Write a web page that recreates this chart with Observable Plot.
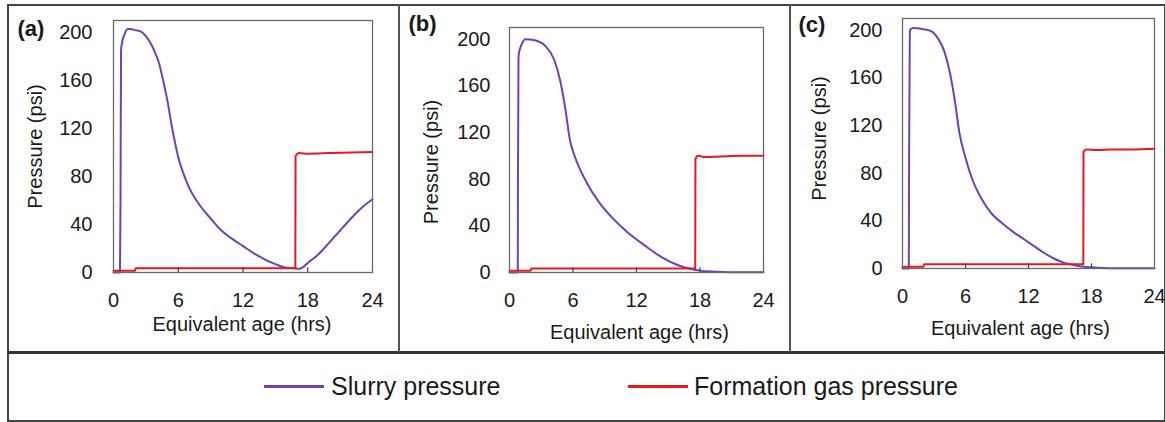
<!DOCTYPE html>
<html>
<head>
<meta charset="utf-8">
<script src="https://cdn.jsdelivr.net/npm/d3@7"></script>
<script src="https://cdn.jsdelivr.net/npm/@observablehq/plot@0.6"></script>
<style>
  html, body { margin: 0; padding: 0; background: #fff; }
  #fig { position: relative; width: 1165px; height: 422px; background: #fff; font-family: "Liberation Sans", Arial, sans-serif; color: #1a1a1a; overflow: hidden; }
  .hline, .vline, .box { position: absolute; }
  .panel { position: absolute; }
  .panel svg { overflow: visible; max-width: none; }
  .leg-line { position: absolute; height: 3px; }
  .leg-text { position: absolute; font-size: 25px; line-height: 28px; white-space: nowrap; }
</style>
</head>
<body>
<div id="fig">
  <div class="box" style="left:7px; top:4px; width:1155px; height:414px; border:2px solid #454545;"></div>
  <div class="hline" style="left:7px; top:351px; width:1159px; height:3px; background:#333;"></div>
  <div class="vline" style="left:398px; top:4px; width:2px; height:348px; background:#555;"></div>
  <div class="vline" style="left:789px; top:4px; width:2px; height:348px; background:#555;"></div>
  <div id="pa" class="panel"></div>
  <div id="pb" class="panel"></div>
  <div id="pc" class="panel"></div>
  <div id="legend"></div>
</div>
<script>
// ---- labels and ticks ----
const xTicks = [0, 6, 12, 18, 24];
const yTicks = [0, 40, 80, 120, 160, 200];
const innerTicks = [6, 12, 18];
const panelLabels = ["(a)", "(b)", "(c)"];
const xTitle = "Equivalent age (hrs)";
const yTitle = "Pressure (psi)";
const seriesNames = ["Slurry pressure", "Formation gas pressure"];
const seriesColors = ["#6d43b3", "#e8191e"];

// ---- panel (a) ----
const slurryA_x = [0, 0.6, 0.65, 0.7, 0.8, 1.0, 1.3, 1.6, 2.0, 2.5, 3.0, 3.5, 4.0, 4.2, 4.6, 5.0, 5.4, 5.8, 6.0, 6.5, 7.0, 8.0, 9.0, 10.0, 11.0, 12.0, 13.0, 14.0, 15.0, 16.0, 16.8, 17.2, 17.5, 18.0, 18.85, 19.5, 20.4, 21.0, 21.9, 23.0, 24.0];
const slurryA_y = [0, 0, 60, 185, 192, 198, 203, 203, 202, 201, 197, 190, 180, 175, 160, 143, 122, 104, 96, 82, 71, 56, 45, 35, 28, 22, 16, 11, 7, 4, 3.5, 3, 4, 8, 14, 20, 29, 35, 44, 54, 61];
const gasA_x = [0, 2, 2.05, 16.85, 16.87, 17.2, 18, 20, 22, 24];
const gasA_y = [1.5, 1.5, 3.5, 3.5, 97, 99.5, 99, 99.5, 100, 100.5];

// ---- panel (b) ----
const slurryB_x = [0, 0.78, 0.8, 0.85, 1.0, 1.17, 1.5, 2.4, 3.4, 4.2, 4.8, 5.3, 5.7, 6.0, 6.4, 7.3, 8.4, 9.7, 11.2, 12.8, 14.4, 16.0, 17.2, 18.5, 20.7, 24.0];
const slurryB_y = [0, 0, 80, 185, 192, 196, 200, 199, 194, 183, 164, 139, 114, 104, 94, 77, 61, 47, 34, 23, 13, 6, 3, 1, 0.3, 0.3];
const gasB_x = [0, 2, 2.05, 17.55, 17.57, 17.8, 18.5, 20, 22, 24];
const gasB_y = [1.5, 1.5, 3.5, 3.5, 97, 100, 99, 99.5, 100, 100];

// ---- panel (c) ----
const slurryC_x = [0, 0.6, 0.63, 0.7, 1.0, 2.0, 2.8, 3.4, 4.0, 4.5, 5.0, 5.4, 6.0, 6.6, 7.5, 8.5, 9.5, 10.5, 11.5, 12.5, 13.5, 14.5, 15.5, 16.5, 17.5, 18.5, 20.0, 24.0];
const slurryC_y = [0, 0, 100, 200, 202, 201, 199, 193, 182, 165, 140, 115, 93, 76, 59, 46, 38, 31, 25, 19, 13, 8, 4.5, 2.5, 1.2, 0.7, 0.3, 0.3];
const gasC_x = [0, 2, 2.05, 17.22, 17.24, 17.5, 18.5, 20, 22, 24];
const gasC_y = [1.5, 1.5, 3.5, 3.5, 98, 100, 99.5, 100, 100, 100.5];

const toRows = (xs, ys) => xs.map((x, i) => ({x, y: ys[i]}));

const font = "'Liberation Sans', Arial, sans-serif";
const fs = 20;

function panel(cfg) {
  const slurry = toRows(cfg.sx, cfg.sy);
  const gas = toRows(cfg.gx, cfg.gy);
  const chart = Plot.plot({
    width: cfg.w, height: cfg.h,
    marginLeft: cfg.mL, marginRight: cfg.mR, marginTop: cfg.mT, marginBottom: cfg.mB,
    style: {fontFamily: font, fontSize: fs + "px", color: "#1a1a1a", background: "transparent", overflow: "visible"},
    x: {domain: [0, 24]},
    y: {domain: [0, 210]},
    marks: [
      Plot.lineY(slurry, {x: "x", y: "y", stroke: seriesColors[0], strokeWidth: 2, curve: "monotone-x"}),
      Plot.lineY(gas, {x: "x", y: "y", stroke: seriesColors[1], strokeWidth: 2, curve: "monotone-x"}),
      Plot.frame({stroke: "#6a6a6a", strokeWidth: 1.3}),
      Plot.ruleX(innerTicks, {x: d => d, y1: 0, y2: 4, stroke: "#444", strokeWidth: 1.2}),
      Plot.axisX({ticks: xTicks, tickSize: 0, tickPadding: cfg.xPad, label: null, fontSize: fs, fontFamily: font, tickFormat: d => String(d)}),
      Plot.axisY({ticks: yTicks, tickSize: 0, tickPadding: cfg.yPad, label: null, fontSize: fs, fontFamily: font, tickFormat: d => String(d)}),
      Plot.text([yTitle], {text: d => d, frameAnchor: "left", textAnchor: "middle", dx: cfg.ytDx, dy: cfg.ytDy, rotate: -90, lineAnchor: "middle", fontSize: fs, fontFamily: font}),
      Plot.text([xTitle], {text: d => d, frameAnchor: "bottom", textAnchor: "middle", dx: cfg.xtDx, dy: cfg.xtDy, lineAnchor: "middle", fontSize: fs, fontFamily: font}),
      Plot.text([cfg.label], {text: d => d, frameAnchor: "top-left", textAnchor: "start", lineAnchor: "middle", dx: cfg.lDx, dy: cfg.lDy, fontWeight: "bold", fontSize: 22, fontFamily: font})
    ]
  });
  const host = document.getElementById(cfg.id);
  host.style.left = cfg.left + "px";
  host.style.top = cfg.top + "px";
  host.style.width = cfg.w + "px";
  host.style.height = cfg.h + "px";
  host.appendChild(chart);
}

panel({id: "pa", label: panelLabels[0], left: 9, top: 6, w: 389, h: 345, mL: 104, mR: 26, mT: 14, mB: 79,
  sx: slurryA_x, sy: slurryA_y, gx: gasA_x, gy: gasA_y,
  xPad: 20, yPad: 21, ytDx: -78, ytDy: 0, xtDx: -1, xtDy: 52, lDx: -96, lDy: 8});
panel({id: "pb", label: panelLabels[1], left: 400, top: 6, w: 388, h: 345, mL: 109, mR: 25, mT: 21, mB: 79,
  sx: slurryB_x, sy: slurryB_y, gx: gasB_x, gy: gasB_y,
  xPad: 20, yPad: 19, ytDx: -78, ytDy: 12, xtDx: 3, xtDy: 60, lDx: -101, lDy: -4});
panel({id: "pc", label: panelLabels[2], left: 791, top: 6, w: 372, h: 345, mL: 111, mR: 9, mT: 12, mB: 83,
  sx: slurryC_x, sy: slurryC_y, gx: gasC_x, gy: gasC_y,
  xPad: 20, yPad: 20, ytDx: -83, ytDy: -5, xtDx: -8, xtDy: 60, lDx: -104, lDy: 6});

// ---- legend ----
const legend = document.getElementById("legend");
const legPos = [{line: 264, text: 331}, {line: 628, text: 694}];
seriesNames.forEach((name, i) => {
  const ln = document.createElement("div");
  ln.className = "leg-line";
  ln.style.left = legPos[i].line + "px";
  ln.style.top = "385px";
  ln.style.width = "60px";
  ln.style.background = seriesColors[i];
  legend.appendChild(ln);
  const tx = document.createElement("div");
  tx.className = "leg-text";
  tx.style.left = legPos[i].text + "px";
  tx.style.top = "372px";
  tx.textContent = name;
  legend.appendChild(tx);
});
</script>
</body>
</html>
